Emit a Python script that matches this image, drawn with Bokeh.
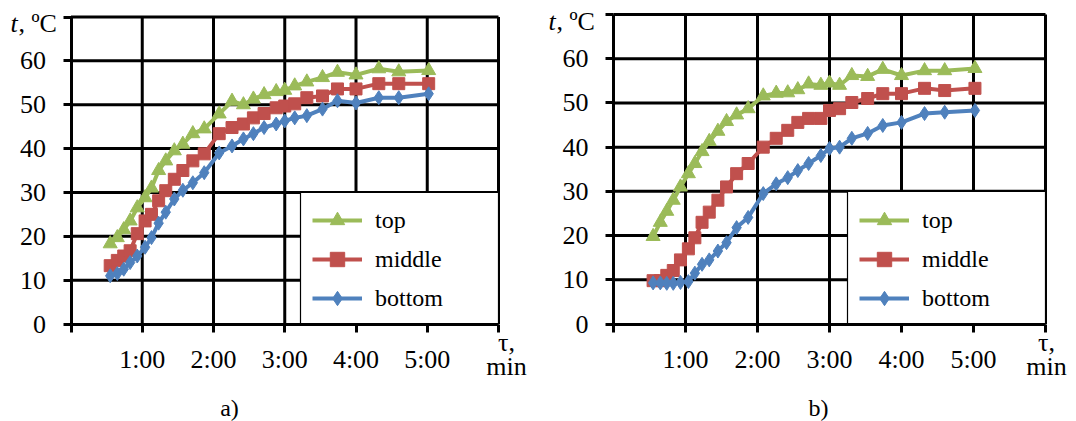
from bokeh.plotting import figure
from bokeh.models import Range1d, Legend, LegendItem, Label
from bokeh.layouts import row
from bokeh.embed import file_html
from bokeh.resources import INLINE

# ---------------- data ----------------
time_min = [0.55, 0.65, 0.74, 0.83, 0.93, 1.04, 1.13, 1.23, 1.33, 1.45, 1.57, 1.71, 1.87, 2.08,
            2.26, 2.42, 2.56, 2.71, 2.88, 3.0, 3.14, 3.31, 3.53, 3.74, 4.0, 4.32, 4.6, 5.02]

a_top = [18.3, 19.7, 21.5, 23.5, 26.5, 28.8, 31.0, 35.0, 37.2, 39.5, 41.0, 43.4, 44.5, 47.9,
         50.8, 50.0, 51.3, 52.3, 53.0, 53.3, 54.3, 55.2, 56.2, 57.4, 56.8, 58.2, 57.5, 57.8]
a_middle = [13.3, 14.5, 15.5, 16.7, 20.6, 23.5, 25.0, 28.1, 30.4, 33.0, 35.0, 37.2, 38.8, 43.4,
            44.8, 45.6, 47.0, 48.0, 49.3, 49.7, 50.2, 51.6, 52.0, 53.6, 53.6, 54.8, 54.8, 54.8]
a_bottom = [11.0, 11.5, 12.5, 14.0, 15.5, 17.5, 19.7, 23.0, 25.5, 28.5, 30.5, 32.2, 34.5, 39.0,
            40.6, 42.2, 43.4, 44.8, 45.6, 46.3, 47.0, 47.5, 49.0, 50.9, 50.4, 51.6, 51.6, 52.5]

b_top = [19.8, 23.0, 25.5, 28.0, 31.0, 34.0, 36.3, 39.0, 41.3, 43.6, 45.8, 47.3, 48.7, 51.6,
         52.2, 52.3, 53.0, 54.3, 54.0, 54.5, 54.0, 56.2, 56.0, 57.6, 56.2, 57.3, 57.3, 57.8]
b_middle = [9.8, 9.8, 11.0, 12.1, 14.5, 17.0, 19.5, 23.0, 25.3, 28.0, 31.0, 34.0, 36.3, 40.0,
            42.0, 43.8, 45.6, 46.5, 46.5, 48.3, 48.7, 50.1, 51.0, 52.1, 52.1, 53.3, 52.8, 53.3]
b_bottom = [9.3, 9.3, 9.2, 9.2, 9.4, 9.6, 11.5, 13.5, 14.5, 16.5, 18.4, 21.8, 24.1, 29.5,
            31.7, 33.1, 34.7, 36.3, 38.1, 39.7, 40.0, 42.0, 43.1, 44.9, 45.6, 47.6, 47.9, 48.3]

series_names = ["top", "middle", "bottom"]
series_colors = ["#9BBB59", "#C0504D", "#4F81BD"]
series_markers = ["triangle", "square", "diamond"]

x_ticks = [0, 1, 2, 3, 4, 5, 6]
x_tick_labels = ["", "1:00", "2:00", "3:00", "4:00", "5:00", ""]
y_ticks = [0, 10, 20, 30, 40, 50, 60, 70]
y_tick_labels = ["0", "10", "20", "30", "40", "50", "60", ""]

FONT = "Liberation Serif"
FIG_H = 421
PAGE_TOP = 0


def make_panel(series, fig_left, width, x0_px, x6_px, y70_px, y0_px, caption, pos):
    # pixel geometry -> data ranges (so that the whole canvas is the plotting frame)
    ppx = (x6_px - x0_px) / 6.0
    ppy = (y0_px - y70_px) / 70.0
    xmin = (fig_left - x0_px) / ppx
    xmax = (fig_left + width - x0_px) / ppx
    ymax = 70 + (y70_px - PAGE_TOP) / ppy
    ymin = -(PAGE_TOP + FIG_H - y0_px) / ppy

    def dx(px):
        return (px - x0_px) / ppx

    def dy(py):
        return (y0_px - py) / ppy

    p = figure(width=width, height=FIG_H, x_range=Range1d(xmin, xmax), y_range=Range1d(ymin, ymax),
               output_backend="svg", toolbar_location=None, title=None,
               min_border=0, min_border_left=0, min_border_right=0,
               min_border_top=0, min_border_bottom=0)
    p.outline_line_color = None
    p.background_fill_color = "white"
    p.grid.visible = False

    for ax in (p.xaxis[0], p.yaxis[0]):
        ax.fixed_location = 0
        ax.axis_line_color = "black"
        ax.axis_line_width = 3
        ax.major_tick_line_color = "black"
        ax.major_tick_line_width = 3
        ax.major_tick_in = 0
        ax.major_tick_out = 8
        ax.minor_tick_line_color = None
        ax.major_label_text_font = FONT
        ax.major_label_text_font_size = "26px"
        ax.major_label_text_color = "black"
    p.xaxis.bounds = (0, 6)
    p.yaxis.bounds = (0, 70)
    p.xaxis.ticker = x_ticks
    p.xaxis.major_label_overrides = dict(zip(x_ticks, x_tick_labels))
    p.xaxis.major_label_standoff = 13
    p.yaxis.ticker = y_ticks
    p.yaxis.major_label_overrides = dict(zip(y_ticks, y_tick_labels))
    p.yaxis.major_label_standoff = 17

    # grid lines (drawn through the data scales)
    vx = x_ticks[1:]
    p.segment(x0=vx, y0=[y_ticks[0]] * len(vx), x1=vx, y1=[y_ticks[-1]] * len(vx),
              line_color="black", line_width=3)
    hy = y_ticks[1:]
    p.segment(x0=[x_ticks[0]] * len(hy), y0=hy, x1=[x_ticks[-1]] * len(hy), y1=hy,
              line_color="black", line_width=3)

    # legend frame (white box over the grid)
    box_left_px, box_top_px = pos["box"]
    p.quad(left=[dx(box_left_px)], right=[6], bottom=[0], top=[dy(box_top_px)],
           fill_color="white", line_color="black", line_width=1.2)

    items = []
    sizes = {"triangle": 14, "square": 12, "diamond": 14}
    for name, vals, col, mk in zip(series_names, series, series_colors, series_markers):
        l = p.line(time_min, vals, line_color=col, line_width=4)
        s = p.scatter(time_min, vals, marker=mk, size=sizes[mk], fill_color=col, line_color=col)
        items.append(LegendItem(label=name, renderers=[l, s]))

    legend = Legend(items=items,
                    location=(box_left_px + 12 - fig_left, PAGE_TOP + FIG_H - 316),
                    padding=0, spacing=3, label_height=36, glyph_height=36, glyph_width=50,
                    label_standoff=13, border_line_alpha=0, background_fill_alpha=0, margin=0,
                    label_text_font=FONT, label_text_font_size="24px", label_text_color="black")
    p.add_layout(legend)

    common = dict(text_font=FONT, text_color="black", text_baseline="middle")
    tx, ty = pos["t"]
    p.add_layout(Label(x=dx(tx), y=dy(ty), text="t", text_font_style="italic",
                       text_font_size="26px", text_align="left", **common))
    p.add_layout(Label(x=dx(tx + 8), y=dy(ty), text=", ºC",
                       text_font_size="26px", text_align="left", **common))
    mx = pos["min"]
    p.add_layout(Label(x=dx(mx), y=dy(342), text="τ,", text_font_size="26px",
                       text_align="center", **common))
    p.add_layout(Label(x=dx(mx), y=dy(366), text="min", text_font_size="26px",
                       text_align="center", **common))
    cx, cy = pos["cap"]
    p.add_layout(Label(x=dx(cx), y=dy(cy), text=caption, text_font_size="24px",
                       text_align="center", **common))
    return p


p1 = make_panel([a_top, a_middle, a_bottom], fig_left=0, width=548,
                x0_px=70.5, x6_px=498, y70_px=16.5, y0_px=323.5, caption="a)",
                pos={"box": (300, 192), "t": (10, 23), "min": 506, "cap": (229, 407)})
p2 = make_panel([b_top, b_middle, b_bottom], fig_left=548, width=528,
                x0_px=613, x6_px=1045, y70_px=14, y0_px=323.5, caption="b)",
                pos={"box": (847, 191), "t": (548, 21), "min": 1046, "cap": (818, 407)})

layout = row(p1, p2)
open("out.html", "w").write(file_html(layout, INLINE))
